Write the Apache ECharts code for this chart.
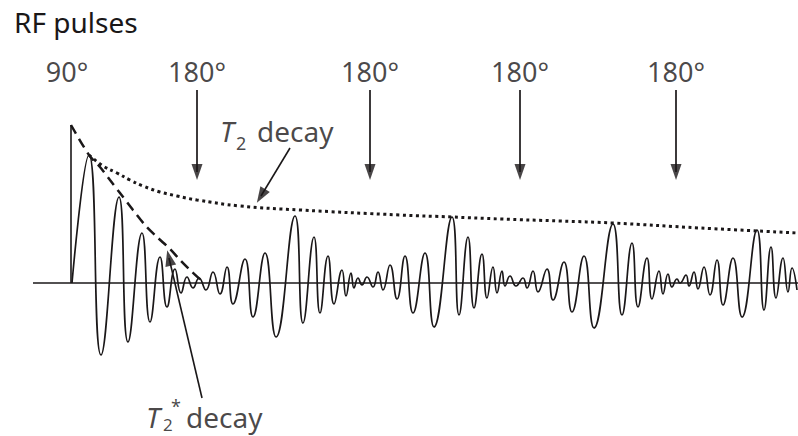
<!DOCTYPE html>
<html><head><meta charset="utf-8">
<script src="https://cdn.jsdelivr.net/npm/echarts/dist/echarts.min.js"></script>
<style>html,body{margin:0;padding:0;background:#fff}#c{width:798px;height:436px}</style>
</head><body><div id="c"></div>
<script>
// time axis (arbitrary units) and signal amplitude (arbitrary units, 0 = baseline)
const signalT = [72,89,101,119,128,142,150,160,167,175,181,187,193,199,206,213,220,227,233,245,253,265,276,295,303,314,320,328,334,342,346,351,354,358,362,367,373,378,383,390,397,405,413,425,434,452,459,468,474,482,487,493,497,502,505,510,516,523,527,533,538,547,553,564,572,584,594,613,622,632,638,647,652,659,663,668,672,677,680,686,689,694,698,704,710,717,723,733,742,757,764,771,776,783,788,792,797];
const signalA = [0,128,-72,86,-59,50,-39,26,-24,14,-10,6,-5,5,-7,11,-11,16,-21,24,-34,30,-54,67,-40,46,-30,27,-21,13,-13,10,-5,5,-2,6,-4,11,-7,18,-16,27,-30,30,-44,66,-32,46,-25,29,-15,16,-10,12,-3,7,-3,5,-5,12,-9,14,-17,21,-29,27,-45,59,-32,40,-24,25,-16,12,-11,9,-4,4,0,8,-3,11,-6,16,-12,23,-22,25,-34,53,-27,36,-15,25,-9,15,-7];
const t2DecayT = [89,103,117,130,143,160,177,197,240,300,400,452,500,560,613,700,798];
const t2DecayA = [128,117,110,103,97,91,87,83,77,73,68,66,64,62,60,55,50];
const t2StarT = [71,89,100,110,120,133,145,157,170,180,190,202];
const t2StarA = [158,128,116,103,90,73,58,46,34,23,13,2];
const baselineT = [33,798];
const pulse90T = 71, pulse90Top = 158;
const pulseLabelT = [67,197,370,520,676];
const pulseLabels = ['90°','180°','180°','180°','180°'];
const arrowT = [197,370,520,676];
const arrowTopA = 193, arrowEndA = 111;

const ink = '#1a1718';
const font = 'Noto Sans';

function textSeries(items, size, italic){
  return {type:'scatter', symbolSize:0, silent:true, z:5,
    data: items.map(it=>({value:[it[0],it[1]], name:it[2]})),
    label:{show:true, position:'right', distance:0, formatter:'{b}', color:ink,
      fontSize:size, fontFamily:font, fontStyle: italic?'italic':'normal'}};
}

const chart = echarts.init(document.getElementById('c'), null, {renderer:'svg'});
chart.setOption({
  animation:false,
  backgroundColor:'#fff',
  title:{text:'RF pulses', left:9, top:3, textStyle:{fontFamily:font, fontSize:28, fontWeight:'normal', color:ink}},
  grid:{left:0,right:0,top:0,bottom:0},
  xAxis:{type:'value', min:0, max:798, show:false},
  yAxis:{type:'value', min:-153, max:283, show:false},
  series:[
    {type:'line', data:baselineT.map(t=>[t,0]), symbol:'none', lineStyle:{color:ink,width:1.6}},
    {type:'line', data:[[pulse90T,0],[pulse90T,pulse90Top]], symbol:'none', lineStyle:{color:ink,width:1.6}},
    {type:'line', data:signalT.map((t,i)=>[t,signalA[i]]), symbol:'none', smooth:0.5, lineStyle:{color:ink,width:1.7}},
    {type:'line', data:t2DecayT.map((t,i)=>[t,t2DecayA[i]]), symbol:'none', smooth:0.4, lineStyle:{color:ink,width:3,type:[3,3.5]}},
    {type:'line', data:t2StarT.map((t,i)=>[t,t2StarA[i]]), symbol:'none', smooth:0.3, lineStyle:{color:ink,width:2.5,type:[10,6]}},
    // RF pulse arrow shafts
    ...arrowT.map(t=>({type:'line', data:[[t,arrowTopA],[t,arrowEndA]], symbol:'none', lineStyle:{color:ink,width:1.7}})),
    // leader lines
    {type:'line', data:[[290,135],[261,87]], symbol:'none', lineStyle:{color:ink,width:1.6}},
    {type:'line', data:[[202,-115],[169,25]], symbol:'none', lineStyle:{color:ink,width:1.6}},
    // arrow heads
    {type:'scatter', symbol:'triangle', symbolSize:[11,16], silent:true, z:4, itemStyle:{color:ink},
      data:[...arrowT.map(t=>({value:[t,arrowEndA], symbolRotate:180})),
            {value:[261,87], symbolRotate:149},
            {value:[169,25], symbolRotate:13}]},
    // pulse labels
    {type:'scatter', symbolSize:0, silent:true,
      data:pulseLabelT.map((t,i)=>({value:[t,212], name:pulseLabels[i]})),
      label:{show:true, position:'inside', formatter:'{b}', color:ink, fontSize:27, fontFamily:font}},
    textSeries([[220,152,'T']],28,true),
    textSeries([[236,140,'2']],18,false),
    textSeries([[257,152,'decay']],28,false),
    textSeries([[146,-134,'T']],28,true),
    textSeries([[163,-141,'2']],17,false),
    textSeries([[171,-123,'*']],18,false),
    textSeries([[186,-134,'decay']],28,false)
  ]
});
</script></body></html>
